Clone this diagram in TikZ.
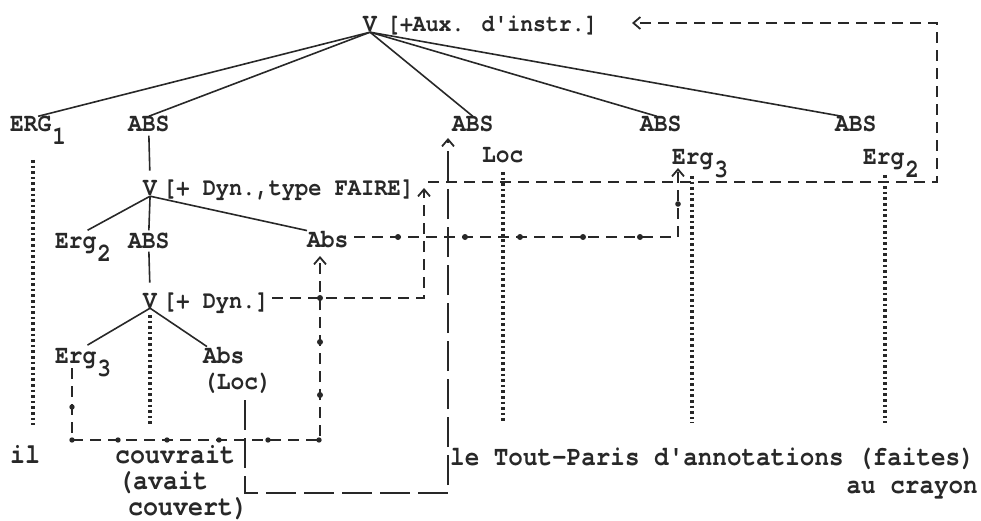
\documentclass[tikz,border=0pt]{standalone}
\usepackage{fontspec}
\newfontfamily\tw{texgyrecursor-bold.otf}[FakeStretch=0.88]
\usetikzlibrary{arrows.meta,calc}
\definecolor{ink}{RGB}{40,40,40}
\newcommand{\tws}[1]{\tw\fontsize{#1}{#1}\selectfont}
\newcommand{\lowsub}[1]{\kern1pt\raisebox{-13pt}{#1}}
\begin{document}
\begin{tikzpicture}[x=1pt,y=-1pt,
  lbl/.style={font=\tws{26pt}, inner sep=0pt, anchor=base west, text=ink},
  brk/.style={lbl, font=\tws{25pt}},
  surf/.style={lbl, font=\tws{28.4pt}},
  surfb/.style={lbl, font=\tws{27.6pt}},
  tree/.style={draw=ink, line width=1.6pt},
  dotl/.style={draw=ink, line width=3.2pt, dash pattern=on 2.6pt off 3pt},
  dsh/.style={draw=ink, line width=2.2pt, dash pattern=on 11pt off 7pt},
  ldsh/.style={draw=ink, line width=2.2pt, dash pattern=on 30pt off 8pt},
  tip/.style={-{Straight Barb[length=7pt,width=12pt,line width=1.8pt]}},
  bead/.style={fill=ink}
]
\useasboundingbox (0,0) rectangle (981,521);

% ---- labels
\node[lbl] (V0) at (363,32) {V};
\node[brk, font=\tws{24.4pt}] (F0) at (387,32) {[+Aux. d'instr.]};
\node[lbl] (ERG1) at (10,132) {ERG\lowsub{1}};
\node[lbl] (ABSa) at (128,132) {ABS};
\node[lbl] (ABSb) at (452,132) {ABS};
\node[lbl] (ABSc) at (640,132) {ABS};
\node[lbl] (ABSd) at (835,132) {ABS};
\node[lbl] (LocT) at (482,163) {Loc};
\node[lbl] (ErgC) at (672,165) {Erg\lowsub{3}};
\node[lbl] (ErgD) at (863,165) {Erg\lowsub{2}};
\node[lbl] (V1) at (143,196) {V};
\node[brk] (F1) at (163,196) {[+ Dyn.,type FAIRE]};
\node[lbl] (Erg2m) at (55,248) {Erg\lowsub{2}};
\node[lbl] (ABSm) at (128,248) {ABS};
\node[lbl] (Absm) at (307,247) {Abs};
\node[lbl] (V2) at (143,308) {V};
\node[brk] (F2) at (163,308) {[+ Dyn.]};
\node[lbl] (Erg3b) at (55,363) {Erg\lowsub{3}};
\node[lbl] (Absb) at (203,363) {Abs};
\node[lbl] (LocB) at (203,389) {(Loc)};
\node[surf] (il) at (10,463) {il};
\node[surf] (couv) at (115,463) {couvrait};
\node[surf] (avait) at (118,489) {(avait};
\node[surf] (couv2) at (128,515) {couvert)};
\node[surfb] (tout) at (450,465) {le Tout-Paris d'annotations (faites)};
\node[surfb, anchor=base east] (cray) at (978,493) {au crayon};

% ---- tree branches
\draw[tree] (V0.south) -- (ERG1.north);
\draw[tree] (V0.south) -- (ABSa.north);
\draw[tree] (V0.south) -- (ABSb.north);
\draw[tree] (V0.south) -- ($(ABSc.north)+(-4,0)$);
\draw[tree] (V0.south) -- ($(ABSd.north)+(-14,0)$);
\draw[tree, shorten <=3pt, shorten >=10pt] (ABSa.south) -- (V1.north);
\draw[tree, shorten >=5pt] (V1.south) -- (Erg2m.north);
\draw[tree, shorten >=2pt] (V1.south) -- (ABSm.north);
\draw[tree] (V1.south) -- (Absm.north west);
\draw[tree, shorten <=3pt, shorten >=10pt] (ABSm.south) -- (V2.north);
\draw[tree, shorten >=5pt] (V2.south) -- (Erg3b.north);
\draw[tree] (V2.south) -- ($(Absb.north west)+(4,0)$);

% ---- dotted correspondences
\coordinate (e1t) at (33,160); \coordinate (e1b) at (33,425);
\coordinate (v2t) at (150,315); \coordinate (v2b) at (150,425);
\coordinate (lct) at (503,172); \coordinate (lcb) at (503,423);
\coordinate (e3t) at (692,176); \coordinate (e3b) at (692,423);
\coordinate (e2t) at (885,175); \coordinate (e2b) at (885,423);
\draw[dotl] (e1t) -- (e1b);
\draw[dotl] (v2t) -- (v2b);
\draw[dotl] (lct) -- (lcb);
\draw[dotl] (e3t) -- (e3b);
\draw[dotl] (e2t) -- (e2b);

% ---- dashed links
\coordinate (f1r) at (428,182); \coordinate (bxb) at (937,182);
\coordinate (bxt) at (937,23); \coordinate (f0r) at (632,23);
\draw[dsh, tip] (f1r) -- (bxb) -- (bxt) -- (f0r);

\coordinate (f2r) at (272,298); \coordinate (f2c) at (424,298); \coordinate (f1u) at (424,188);
\draw[dsh, tip] (f2r) -- (f2c) -- (f1u);

\coordinate (amr) at (354,237); \coordinate (amc) at (678,237); \coordinate (ecu) at (678,168);
\draw[dsh, tip] (amr) -- (amc) -- (ecu);
\foreach \x in {398,465,520,583,640} \fill[bead] (\x,237) circle (3pt);
\fill[bead] (678,204) circle (2.8pt);

\coordinate (ebt) at (72,368); \coordinate (eb1) at (72,440); \coordinate (eb2) at (320,440); \coordinate (amu) at (320,256);
\draw[dsh, tip] (ebt) -- (eb1) -- (eb2) -- (amu);
\foreach \x in {72,118,167,219,268,319} \fill[bead] (\x,440) circle (2.7pt);
\fill[bead] (72,407) circle (2.7pt);
\foreach \y in {395,342,298} \fill[bead] (320,\y) circle (3pt);

\coordinate (lbt) at (245,400); \coordinate (lb1) at (245,493); \coordinate (lb2) at (448,493); \coordinate (abu) at (448,138);
\draw[ldsh, tip] (lbt) -- (lb1) -- (lb2) -- (abu);
\end{tikzpicture}
\end{document}
